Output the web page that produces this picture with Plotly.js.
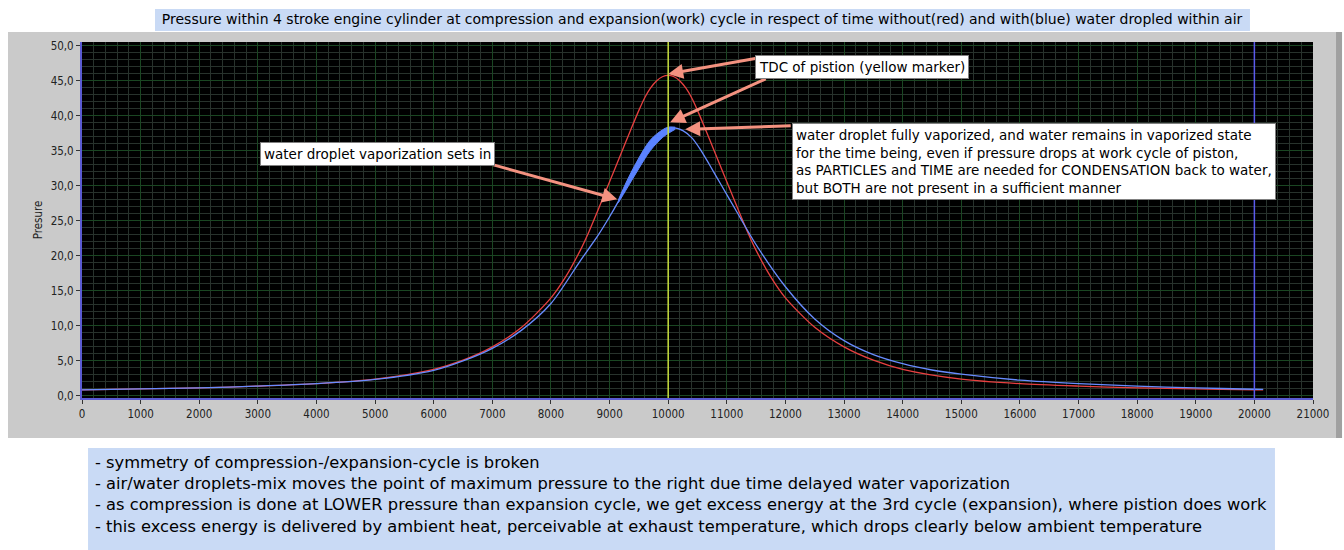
<!DOCTYPE html>
<html>
<head>
<meta charset="utf-8">
<script src="https://cdn.plot.ly/plotly-3.0.1.min.js"></script>
<style>html,body{margin:0;padding:0;background:#fff;}#chart{width:1344px;height:550px;}</style>
</head>
<body>
<div id="chart"></div>
<script>
// ---- data ----
var timeRed = [0, 1000, 2000, 3000, 4000, 5000, 6000, 6500, 7000, 7500, 8000, 8250, 8500, 8650, 8805, 9000, 9200, 9360, 9500, 9600, 9700, 9800, 9900, 10000,
  10100, 10200, 10300, 10400, 10500, 10640, 10800, 11000, 11195, 11350, 11500, 11750, 12000, 12500, 13000, 13500, 14000, 15000, 16000, 17000, 18000, 19000, 20000, 20150];
var pressureRed = [0.86, 1.0, 1.15, 1.4, 1.75, 2.4, 3.8, 5.1, 7.0, 9.8, 14.0, 17.0, 20.8, 23.5, 26.6, 30.6, 34.7, 38.0, 40.8, 42.6, 44.0, 45.0, 45.6, 45.8,
  45.6, 45.0, 44.0, 42.6, 40.8, 38.0, 34.7, 30.6, 26.6, 23.5, 20.8, 17.0, 14.0, 9.8, 7.0, 5.1, 3.8, 2.4, 1.75, 1.4, 1.15, 1.0, 0.86, 0.85];

var timeBlue = [0, 1000, 2000, 3000, 4000, 5000, 6000, 6500, 7000, 7500, 8000, 8500, 8800, 9000, 9150, 9300, 9500, 9700, 9900, 10000, 10100,
  10250, 10400, 10550, 10700, 10900, 11150, 11500, 12000, 12500, 13000, 13500, 14000, 14500, 15000, 16000, 17000, 18000, 19000, 20000, 20150];
var pressureBlue = [0.86, 1.0, 1.15, 1.4, 1.75, 2.35, 3.65, 5.0, 6.8, 9.4, 13.2, 19.3, 22.9, 25.6, 27.8, 30.2, 33.2, 35.8, 37.5, 38.0, 38.3,
  37.9, 36.9, 35.2, 33.1, 30.2, 26.6, 21.6, 15.6, 11.0, 7.9, 5.9, 4.6, 3.7, 3.1, 2.25, 1.75, 1.4, 1.15, 0.95, 0.92];

// fuzzy vaporization band on the blue curve
var timeBand = [9150, 9300, 9500, 9700, 9900, 10000, 10120];
var bandLow = [27.6, 29.7, 32.5, 35.1, 36.9, 37.5, 38.1];
var bandHigh = [28.0, 30.8, 34.0, 36.6, 38.0, 38.4, 38.4];

var cursorTDC = 10000;
var cursorEnd = 20000;

var xTickVals = [0,1000,2000,3000,4000,5000,6000,7000,8000,9000,10000,11000,12000,13000,14000,15000,16000,17000,18000,19000,20000,21000];
var yTickVals = [0,5,10,15,20,25,30,35,40,45,50];

var titleText = 'Pressure within 4 stroke engine cylinder at compression and expansion(work) cycle in respect of time without(red) and with(blue) water dropled within air';
var notes = [
  '- symmetry of compression-/expansion-cycle is broken',
  '- air/water droplets-mix moves the point of maximum pressure to the right due time delayed water vaporization',
  '- as compression is done at LOWER pressure than expansion cycle, we get excess energy at the 3rd cycle (expansion), where pistion does work',
  '- this excess energy is delivered by ambient heat, perceivable at exhaust temperature, which drops clearly below ambient temperature'
];

var FONT = 'DejaVu Sans, Liberation Sans, sans-serif';
var FONT_C = 'DejaVu Sans Condensed, DejaVu Sans, sans-serif';

var traces = [
  {x: timeRed, y: pressureRed, type: 'scatter', mode: 'lines', line: {color: 'rgb(232,64,64)', width: 1.3, shape: 'spline', smoothing: 0.8}},
  {x: timeBlue, y: pressureBlue, type: 'scatter', mode: 'lines', line: {color: 'rgb(104,140,255)', width: 1.3, shape: 'spline', smoothing: 0.8}},
  {x: timeBand, y: bandLow, type: 'scatter', mode: 'lines', line: {color: 'rgb(90,130,255)', width: 1, shape: 'spline'}},
  {x: timeBand, y: bandHigh, type: 'scatter', mode: 'lines', fill: 'tonexty', fillcolor: 'rgb(90,130,255)', line: {color: 'rgb(90,130,255)', width: 1, shape: 'spline'}}
];

var shapes = [
  {type: 'rect', xref: 'paper', yref: 'paper', x0: -0.0601, x1: 1.0187, y0: -0.1124, y1: 1.028, fillcolor: '#cacaca', line: {width: 0}, layer: 'below'},
  {type: 'rect', xref: 'paper', yref: 'paper', x0: 1.0187, x1: 1.0236, y0: -0.1124, y1: 1.028, fillcolor: '#a0a0a0', line: {width: 0}, layer: 'below'},
  {type: 'rect', xref: 'paper', yref: 'paper', x0: 0, x1: 1, y0: 0, y1: 1, fillcolor: '#000000', line: {width: 0}, layer: 'below'},
  {type: 'rect', xref: 'paper', yref: 'paper', x0: 0.0593, x1: 0.9488, y0: 1.0309, y1: 1.0927, fillcolor: '#c9daf5', line: {width: 0}, layer: 'below'},
  {type: 'rect', xref: 'paper', yref: 'paper', x0: 0.0049, x1: 0.9691, y0: -0.43, y1: -0.1404, fillcolor: '#c9daf5', line: {width: 0}, layer: 'below'},
  {type: 'line', xref: 'x', yref: 'paper', x0: cursorTDC, x1: cursorTDC, y0: 0, y1: 1, line: {color: 'rgb(200,220,60)', width: 1.5}},
  {type: 'line', xref: 'x', yref: 'paper', x0: cursorEnd, x1: cursorEnd, y0: 0, y1: 1, line: {color: 'rgb(90,90,235)', width: 1.5}}
];

var ARROW = 'rgb(244,146,128)';
function arrow(hx, hy, tx, ty) {
  return {x: hx, y: hy, ax: tx, ay: ty, xref: 'x', yref: 'y', axref: 'x', ayref: 'y', text: '', showarrow: true,
    arrowcolor: ARROW, arrowwidth: 3, arrowhead: 2, arrowsize: 1};
}

var annotations = [
  arrow(10000, 46.0, 11536, 48.3),
  arrow(10034, 39.1, 11689, 45.4),
  arrow(10290, 38.1, 12116, 38.6),
  arrow(9130, 28.1, 6980, 33.1),
  {x: 13311, y: 47.0, xref: 'x', yref: 'y', text: 'TDC of pistion (yellow marker)', showarrow: false,
   bgcolor: '#ffffff', bordercolor: '#808080', borderwidth: 1, borderpad: 3, font: {family: FONT, size: 13.5, color: '#000'}},
  {x: 5034, y: 34.5, xref: 'x', yref: 'y', text: 'water droplet vaporization sets in', showarrow: false,
   bgcolor: '#ffffff', bordercolor: '#808080', borderwidth: 1, borderpad: 3, font: {family: FONT, size: 13.5, color: '#000'}},
  {x: 12116, y: 39.0, xref: 'x', yref: 'y', xanchor: 'left', yanchor: 'top', align: 'left',
   text: 'water droplet fully vaporized, and water remains in vaporized state<br>for the time being, even if pressure drops at work cycle of piston,<br>as PARTICLES and TIME are needed for CONDENSATION back to water,<br>but BOTH are not present in a sufficient manner',
   showarrow: false, bgcolor: '#ffffff', bordercolor: '#808080', borderwidth: 1, borderpad: 3, font: {family: FONT, size: 13.5, color: '#000'}},
  {x: 0.0089, y: -0.148, xref: 'paper', yref: 'paper', xanchor: 'left', yanchor: 'top', align: 'left',
   text: notes.join('<br>'), showarrow: false, font: {family: FONT, size: 16.3, color: '#000'}}
];

var layout = {
  width: 1344, height: 550,
  margin: {l: 82, r: 31, t: 42, b: 152},
  paper_bgcolor: '#ffffff',
  plot_bgcolor: 'rgba(0,0,0,0)',
  separators: ',.',
  showlegend: false,
  title: {text: titleText, x: 0.5037, xref: 'paper', xanchor: 'center', y: 0.965, yref: 'container', yanchor: 'middle',
    font: {family: FONT, size: 14, color: '#000'}},
  xaxis: {range: [0, 21000], tickvals: xTickVals, tickformat: 'd', ticks: 'outside', ticklen: 4, tickcolor: '#333',
    showgrid: true, gridcolor: 'rgb(26,70,34)', gridwidth: 1, zeroline: false,
    minor: {dtick: 200, showgrid: true, gridcolor: 'rgb(40,50,44)', gridwidth: 1},
    showline: true, linecolor: 'rgb(90,90,210)', linewidth: 2,
    tickfont: {family: FONT_C, size: 11.5, color: '#222'}, fixedrange: true},
  yaxis: {range: [-0.3, 50.57], tickvals: yTickVals, tickformat: '.1f', ticks: 'outside', ticklen: 4, tickcolor: '#333',
    showgrid: true, gridcolor: 'rgb(26,70,34)', gridwidth: 1, zeroline: false,
    minor: {dtick: 1, showgrid: true, gridcolor: 'rgb(40,50,44)', gridwidth: 1},
    showline: true, linecolor: 'rgb(90,90,210)', linewidth: 2,
    title: {text: 'Presure', standoff: 6, font: {family: FONT_C, size: 11.5, color: '#222'}},
    tickfont: {family: FONT_C, size: 11.5, color: '#222'}, fixedrange: true},
  shapes: shapes,
  annotations: annotations
};

Plotly.newPlot('chart', traces, layout, {displayModeBar: false, staticPlot: true});
</script>
</body>
</html>
